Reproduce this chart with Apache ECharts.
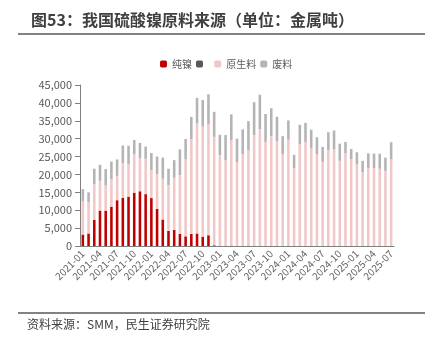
<!DOCTYPE html>
<html><head><meta charset="utf-8">
<script src="https://cdn.jsdelivr.net/npm/echarts@6/dist/echarts.min.js"></script>
<style>html,body{margin:0;padding:0;background:#fff}#c{width:436px;height:341px}</style>
</head><body><div id="c"></div>
<script>
const months = [];
for (let y = 2021; y <= 2025; y++) for (let m = 1; m <= 12; m++) { if (y === 2025 && m > 7) break; months.push(y + '-' + String(m).padStart(2, '0')); }
const pureNickel = [3200,3500,7300,9900,9900,11000,12800,13500,13800,14900,15300,14500,13400,10400,7400,4200,4500,3400,2700,3400,3500,2600,3000,200,0,0,100,0,0,100,0,0,0,0,0,0,0,0,0,0,0,0,0,0,0,0,0,0,0,0,0,0,0,0,0];
const unnamed = new Array(55).fill(0);
const primary = [9300,8800,10000,8300,7000,7700,6800,9700,9100,10800,9300,9900,7800,9700,11400,12800,14600,16400,21500,26500,30700,30800,31100,30300,25400,24000,29500,23400,25700,26600,31000,32700,29100,30700,29300,25700,29700,21800,28400,29100,27400,25700,23500,26800,27000,23800,25900,24200,22800,20600,21800,21800,21600,21000,24300];
const scrap = [3400,2700,4300,4500,4600,4900,4600,4900,5100,3900,4200,3400,4800,4900,5900,4600,4900,7200,5700,6200,7200,7400,8300,7000,5700,7000,7200,6600,6900,8200,9200,9600,7800,7800,6800,5000,5400,3700,5500,5300,5100,4700,4200,5000,5300,4800,3200,2900,3400,3200,4100,4000,4200,3700,4700];
const yTicks = [0,5000,10000,15000,20000,25000,30000,35000,40000,45000];

const chart = echarts.init(document.getElementById('c'));
const fontF = '"Noto Sans CJK SC", "Noto Sans", sans-serif';
chart.setOption({
  animation: false,
  textStyle: { fontFamily: fontF },
  title: { text: '图53：我国硫酸镍原料来源（单位：金属吨）', left: 26, top: 7,
    textStyle: { fontSize: 16, fontWeight: 'bold', color: '#404040', fontFamily: fontF } },
  graphic: [
    { type: 'line', shape: { x1: 18, y1: 34, x2: 425, y2: 34 }, style: { stroke: '#595959', lineWidth: 1.5 } },
    { type: 'line', shape: { x1: 18, y1: 313, x2: 425, y2: 313 }, style: { stroke: '#595959', lineWidth: 1.5 } },
    { type: 'text', left: 27, top: 318, style: { text: '资料来源：SMM，民生证券研究院', font: '12px ' + fontF, fill: '#404040' } }
  ],
  legend: { top: 54, left: 155, itemWidth: 7, itemHeight: 7, itemGap: 4,
    textStyle: { fontSize: 10, color: '#595959' },
    data: ['纯镍', ' ', '原生料', '废料'] },
  grid: { left: 80, right: 42, top: 85, bottom: 95 },
  xAxis: { type: 'category', data: months,
    axisLine: { lineStyle: { color: '#808080' } },
    axisTick: { interval: 2, lineStyle: { color: '#808080' } },
    axisLabel: { interval: 2, rotate: 45, fontSize: 10, color: '#666666', margin: 6 } },
  yAxis: { type: 'value', min: 0, max: 45000, interval: 5000,
    splitLine: { show: false },
    axisLine: { show: true, lineStyle: { color: '#808080' } },
    axisTick: { show: true, lineStyle: { color: '#808080' } },
    axisLabel: { fontSize: 11, color: '#595959', margin: 8,
      formatter: v => yTicks.includes(v) ? v.toLocaleString('en-US') : '' } },
  series: [
    { name: '纯镍', type: 'bar', stack: 't', data: pureNickel, barWidth: '45%', itemStyle: { color: '#C00000' } },
    { name: ' ', type: 'bar', stack: 't', data: unnamed, itemStyle: { color: '#595959' } },
    { name: '原生料', type: 'bar', stack: 't', data: primary, itemStyle: { color: '#F2C7C7' } },
    { name: '废料', type: 'bar', stack: 't', data: scrap, itemStyle: { color: '#B4B4B4' } }
  ]
});
</script></body></html>
